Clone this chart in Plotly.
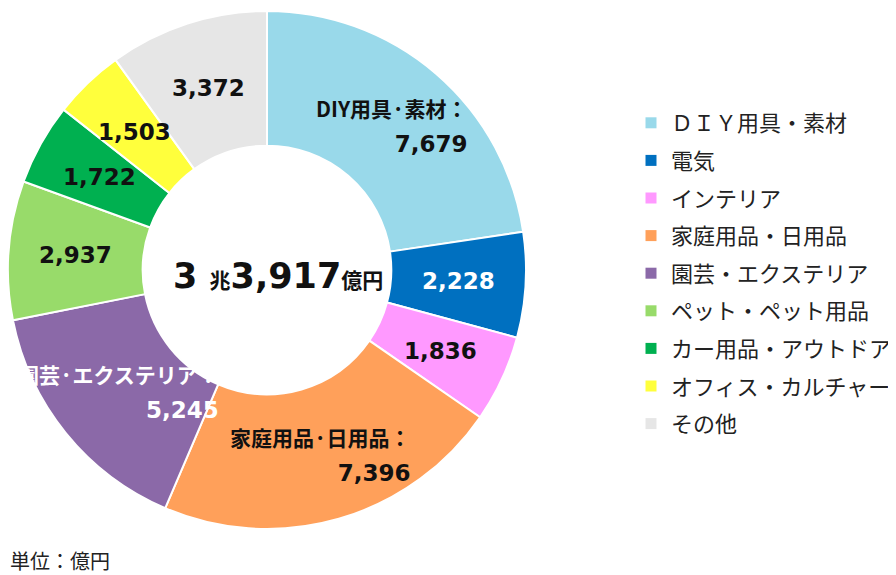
import math
import plotly.graph_objects as go

categories = ["ＤＩＹ用具・素材", "電気", "インテリア", "家庭用品・日用品", "園芸・エクステリア",
              "ペット・ペット用品", "カー用品・アウトドア", "オフィス・カルチャー", "その他"]
slice_names = ["DIY用具·素材：", "", "", "家庭用品·日用品：", "園芸·エクステリア：", "", "", "", ""]
values = [7679, 2228, 1836, 7396, 5245, 2937, 1722, 1503, 3372]
colors = ["#99D9EA", "#0070C0", "#FF99FF", "#FFA05A", "#8B69A8", "#98DB6A", "#00B050", "#FFFF3C", "#E6E6E6"]
text_colors = ["#111111", "#FFFFFF", "#111111", "#111111", "#FFFFFF", "#111111", "#111111", "#111111", "#111111"]
total_label = ("3", "兆", "3,917", "億円")
unit_label = "単位：億円"

FONT = "DejaVu Sans, Noto Sans CJK JP, sans-serif"
CJK = "Noto Sans CJK JP, sans-serif"
W, H = 896, 575
OFF = 8  # page body margin
HOLE = 0.48

cx, cy, r = 267 - OFF, 270 - OFF, 259
fig = go.Figure()
fig.add_trace(go.Pie(
    labels=categories, values=values, textinfo="none",
    marker=dict(colors=colors, line=dict(color="white", width=2)),
    sort=False, direction="clockwise", rotation=0, hole=HOLE,
    domain=dict(x=[max(0, (cx - r) / W), (cx + r) / W], y=[(H - cy - r) / H, (H - cy + r) / H]),
    showlegend=False, hoverinfo="label+value",
))

# slice labels placed at the middle of each ring segment (derived from the values)
total = sum(values)
rmid = r * (1 + HOLE) / 2
cum = 0
for name, v, tc in zip(slice_names, values, text_colors):
    theta = math.radians((cum + v / 2) / total * 360)
    cum += v
    px = cx + rmid * math.sin(theta)
    py = cy - rmid * math.cos(theta)
    val = f"<span style='font-size:23px'><b>{v:,}</b></span>"
    if name:
        txt = f"<span style='font-size:21px;font-family:Noto Sans CJK JP'><b>{name}</b></span><br>{val}"
    else:
        txt = val
    fig.add_annotation(x=px / W, y=1 - py / H, xref="paper", yref="paper", showarrow=False,
                       xanchor="center", yanchor="middle", align="right", text=txt,
                       font=dict(size=27, family=FONT, color=tc))

for i, (c, col) in enumerate(zip(categories, colors)):
    fig.add_trace(go.Scatter(
        x=[None], y=[None], mode="markers", name=c, legendgroup=f"g{i}",
        marker=dict(symbol="square", size=11, color=col), showlegend=True,
    ))

a, b, c_, d = total_label
fig.add_annotation(
    x=(278 - OFF) / W, y=1 - (276 - OFF) / H, xref="paper", yref="paper", showarrow=False,
    xanchor="center", yanchor="middle",
    text=(f"<b>{a} </b><span style='font-size:21px;font-family:Noto Sans CJK JP'><b>{b}</b></span>"
          f"<b>{c_}</b><span style='font-size:21px;font-family:Noto Sans CJK JP'><b>{d}</b></span>"),
    font=dict(size=35, family=FONT, color="#111111"),
)
fig.add_annotation(
    x=0, y=1 - (560 - OFF) / H, xref="paper", yref="paper", xanchor="left", yanchor="middle",
    text=unit_label, showarrow=False, font=dict(size=20, family=CJK, color="#222222"),
)

fig.update_layout(
    width=W, height=H, margin=dict(l=0, r=0, t=0, b=0),
    paper_bgcolor="white", plot_bgcolor="white",
    xaxis=dict(visible=False), yaxis=dict(visible=False),
    legend=dict(x=(673 - OFF - 42) / W, y=1 - (122 - OFF - 20) / H, xanchor="left", yanchor="top",
                font=dict(size=22, family=CJK, color="#222222"),
                tracegroupgap=6, bgcolor="rgba(0,0,0,0)"),
)
fig.write_html("out.html")
